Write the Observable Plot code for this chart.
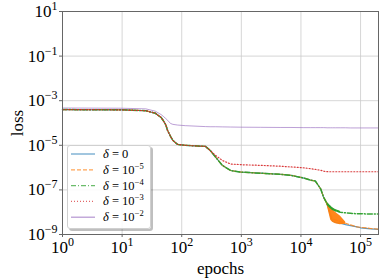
<!DOCTYPE html>
<html>
<head>
<meta charset="utf-8">
<script src="https://cdn.jsdelivr.net/npm/d3@7"></script>
<script src="https://cdn.jsdelivr.net/npm/@observablehq/plot@0.6"></script>
<style>
  html, body { margin: 0; padding: 0; background: #fff; }
  #wrap { position: relative; width: 383px; height: 279px; font-family: 'Liberation Serif', 'DejaVu Serif', serif; }
  #legend { position: absolute; left: 67px; top: 145px; width: 84px; height: 84px;
    background: rgba(255,255,255,0.85); border: 1px solid #d0d0d0; border-radius: 3px;
    box-shadow: 2px 2px 0 rgba(0,0,0,0.25); box-sizing: border-box; }
</style>
</head>
<body>
<div id="wrap"></div>
<script>
// ---- data ----
const epochs = [1,10,25,36,45,49,54,58,65,71,85,115,250,300,370,480,660,980,2100,4600,6800,11200,14500,17400,21400,24000,27500,31600,33900,38000,45700,56200,67600,87100,100000,148000,200000];

const lossD0 = [4.0e-4,3.9e-4,3.55e-4,2.75e-4,1.78e-4,1.29e-4,8.3e-5,4.6e-5,2.5e-5,1.66e-5,1.1e-5,1.0e-5,8.9e-6,5.9e-6,2.95e-6,1.26e-6,7.4e-7,6.3e-7,5.6e-7,5.0e-7,4.5e-7,3.4e-7,2.75e-7,2.5e-7,1.12e-7,4.7e-8,2.4e-8,6.3e-9,4.0e-9,3.5e-9,3.2e-9,2.75e-9,2.5e-9,2.2e-9,2.0e-9,1.8e-9,1.7e-9];
const lossD5 = [4.0e-4,3.9e-4,3.55e-4,2.75e-4,1.78e-4,1.29e-4,8.3e-5,4.6e-5,2.5e-5,1.66e-5,1.1e-5,1.0e-5,8.9e-6,5.9e-6,2.95e-6,1.26e-6,7.4e-7,6.3e-7,5.6e-7,5.0e-7,4.5e-7,3.4e-7,2.75e-7,2.5e-7,1.12e-7,4.7e-8,2.4e-8,7.9e-9,5.0e-9,4.5e-9,3.8e-9,3.2e-9,2.7e-9,2.2e-9,2.1e-9,1.86e-9,1.74e-9];
const lossD4 = [4.0e-4,3.9e-4,3.55e-4,2.75e-4,1.78e-4,1.29e-4,8.3e-5,4.6e-5,2.5e-5,1.66e-5,1.1e-5,1.0e-5,8.9e-6,5.9e-6,2.95e-6,1.26e-6,7.4e-7,6.3e-7,5.6e-7,5.0e-7,4.5e-7,3.4e-7,2.75e-7,2.5e-7,1.12e-7,4.7e-8,2.4e-8,1.66e-8,1.41e-8,1.17e-8,1.0e-8,9.3e-9,8.9e-9,8.5e-9,8.5e-9,8.3e-9,8.3e-9];
const lossD3 = [4.0e-4,3.9e-4,3.55e-4,2.75e-4,1.78e-4,1.29e-4,8.3e-5,4.6e-5,2.5e-5,1.66e-5,1.1e-5,1.0e-5,8.9e-6,5.9e-6,3.5e-6,2.1e-6,1.45e-6,1.35e-6,1.26e-6,1.15e-6,1.07e-6,9.8e-7,8.9e-7,8.3e-7,7.6e-7,6.9e-7,6.6e-7,6.5e-7,6.5e-7,6.5e-7,6.5e-7,6.5e-7,6.5e-7,6.5e-7,6.5e-7,6.5e-7,6.5e-7];
const lossD2 = [4.7e-4,4.6e-4,4.3e-4,3.4e-4,2.4e-4,2.0e-4,1.58e-4,1.32e-4,9.5e-5,8.7e-5,8.1e-5,7.6e-5,6.9e-5,6.8e-5,6.8e-5,6.7e-5,6.6e-5,6.5e-5,6.4e-5,6.3e-5,6.3e-5,6.2e-5,6.2e-5,6.2e-5,6.2e-5,6.2e-5,6.1e-5,6.1e-5,6.1e-5,6.1e-5,6.1e-5,6.1e-5,6.0e-5,6.0e-5,6.0e-5,6.0e-5,6.0e-5];

// oscillation envelopes (band of the noisy curves)
const orangeBandEpochs = [24000,27500,31600,33900,38000,45700,56200];
const orangeBandLow  = [4.7e-8,2.0e-8,4.3e-9,3.5e-9,3.0e-9,2.75e-9,2.9e-9];
const orangeBandHigh = [4.7e-8,2.8e-8,1.66e-8,1.41e-8,1.0e-8,6.8e-9,3.6e-9];
const greenBandEpochs = [27500,31600,33900,38000,45700];
const greenBandLow  = [2.0e-8,1.38e-8,1.2e-8,1.05e-8,9.1e-9];
const greenBandHigh = [2.8e-8,1.9e-8,1.58e-8,1.32e-8,1.1e-8];

const seriesNames = ["δ = 0","δ = 10^−5","δ = 10^−4","δ = 10^−3","δ = 10^−2"];
const seriesColors = ["#1f77b4","#ff7f0e","#2ca02c","#d62728","#9467bd"];
const seriesDash = [null,"4,2","5,2,1,2","1,2",null];
const seriesWidth = [1.2,1.2,1.5,1.2,0.9];
const seriesOpacity = [0.75,0.8,0.95,0.9,0.7];
const seriesLoss = [lossD0,lossD5,lossD4,lossD3,lossD2];

const xTicks = [1,10,100,1000,10000,100000];
const xTickLabels = ["10^0","10^1","10^2","10^3","10^4","10^5"];
const yTicks = [10,0.1,1e-3,1e-5,1e-7,1e-9];
const yTickLabels = ["10^1","10^−1","10^−3","10^−5","10^−7","10^−9"];

// ---- tables ----
const rows = seriesLoss.map(arr => epochs.map((e, i) => ({e, l: arr[i]})));
const oBand = orangeBandEpochs.map((e, i) => ({e, lo: orangeBandLow[i], hi: orangeBandHigh[i]}));
const gBand = greenBandEpochs.map((e, i) => ({e, lo: greenBandLow[i], hi: greenBandHigh[i]}));
const xLab = new Map(xTicks.map((t, i) => [t, xTickLabels[i]]));
const yLab = new Map(yTicks.map((t, i) => [t, yTickLabels[i]]));

const lineMark = (k) => Plot.line(rows[k], {x: "e", y: "l", stroke: seriesColors[k],
  strokeWidth: seriesWidth[k], strokeDasharray: seriesDash[k] || undefined, strokeOpacity: seriesOpacity[k]});

const chart = Plot.plot({
  width: 383, height: 279,
  marginLeft: 62, marginRight: 5, marginTop: 11, marginBottom: 45,
  style: {fontFamily: "'Liberation Serif', 'DejaVu Serif', serif", fontSize: "17px", background: "transparent", color: "#000"},
  x: {type: "log", domain: [1, 2e5]},
  y: {type: "log", domain: [1e-9, 10]},
  marks: [
    Plot.gridX({ticks: xTicks, stroke: "#cccccc", strokeOpacity: 1, strokeWidth: 0.8}),
    Plot.gridY({ticks: yTicks, stroke: "#cccccc", strokeOpacity: 1, strokeWidth: 0.8}),
    lineMark(0),
    Plot.areaY(oBand, {x: "e", y1: "lo", y2: "hi", fill: "#ff7f0e", fillOpacity: 0.95}),
    lineMark(1),
    Plot.areaY(gBand, {x: "e", y1: "lo", y2: "hi", fill: "#2ca02c", fillOpacity: 0.95}),
    lineMark(2),
    lineMark(3),
    lineMark(4),
    Plot.frame({stroke: "#666", strokeWidth: 1}),
    Plot.axisX({ticks: xTicks, tickFormat: d => xLab.get(d), tickSize: 3, tickPadding: 3, stroke: "#666",
      fontSize: 17, label: "epochs", labelAnchor: "center", labelArrow: "none", labelOffset: 39}),
    Plot.axisY({ticks: yTicks, tickFormat: d => yLab.get(d), tickSize: 3, tickPadding: 2, stroke: "#666",
      fontSize: 17, label: "loss", labelAnchor: "center", labelArrow: "none", labelOffset: 52})
  ]
});

// superscripts for tick labels
const NS = "http://www.w3.org/2000/svg";
function supify(t) {
  const s = t.textContent;
  if (!s.includes("^")) return;
  const [b, e] = s.split("^");
  t.textContent = "";
  const t1 = document.createElementNS(NS, "tspan"); t1.textContent = b;
  const t2 = document.createElementNS(NS, "tspan"); t2.textContent = e;
  t2.setAttribute("dy", "-7"); t2.setAttribute("font-size", "12");
  t.appendChild(t1); t.appendChild(t2);
}
chart.querySelectorAll('g[aria-label="x-axis tick label"] text, g[aria-label="y-axis tick label"] text').forEach(supify);

const wrap = document.getElementById("wrap");
wrap.appendChild(chart);

// legend
const leg = document.createElement("div");
leg.id = "legend";
const lsvg = document.createElementNS(NS, "svg");
lsvg.setAttribute("width", "82"); lsvg.setAttribute("height", "82");
lsvg.style.position = "absolute"; lsvg.style.left = "0"; lsvg.style.top = "0";
seriesNames.forEach((name, k) => {
  const y = 8 + k * 15.8;
  const ln = document.createElementNS(NS, "line");
  ln.setAttribute("x1", 3); ln.setAttribute("x2", 27); ln.setAttribute("y1", y); ln.setAttribute("y2", y);
  ln.setAttribute("stroke", seriesColors[k]); ln.setAttribute("stroke-width", 1.2);
  ln.setAttribute("stroke-opacity", 0.7);
  if (seriesDash[k]) ln.setAttribute("stroke-dasharray", seriesDash[k]);
  lsvg.appendChild(ln);
  const tx = document.createElementNS(NS, "text");
  tx.setAttribute("x", 35); tx.setAttribute("y", y + 4);
  tx.setAttribute("font-size", "12.5"); tx.setAttribute("font-family", "'Liberation Serif', 'DejaVu Serif', serif");
  const [b, e] = name.split("^");
  const pd = document.createElementNS(NS, "tspan");
  pd.setAttribute("font-style", "italic"); pd.textContent = "δ";
  const p1 = document.createElementNS(NS, "tspan");
  p1.textContent = b.replace("δ", "");
  tx.appendChild(pd); tx.appendChild(p1);
  if (e) {
    const p2 = document.createElementNS(NS, "tspan");
    p2.textContent = e; p2.setAttribute("dy", "-5"); p2.setAttribute("font-size", "8.5");
    tx.appendChild(p2);
  }
  lsvg.appendChild(tx);
});
leg.appendChild(lsvg);
wrap.appendChild(leg);
</script>
</body>
</html>
